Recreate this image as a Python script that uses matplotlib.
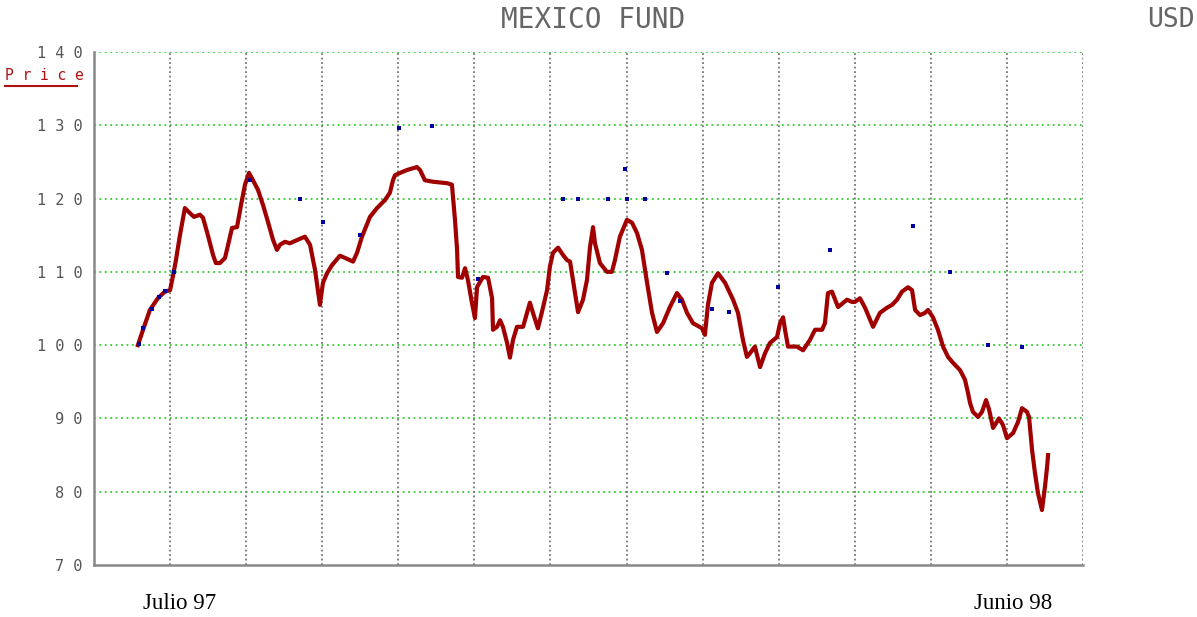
import matplotlib.pyplot as plt
from matplotlib.lines import Line2D

# semaines depuis le debut de l'axe (1 grille = 4 semaines)
weeks = [2.31, 2.58, 2.94, 3.36, 3.73, 4.00, 4.15, 4.31, 4.52, 4.78, 5.05, 5.26, 5.57, 5.73,
         5.99, 6.26, 6.41, 6.62, 6.89, 7.05, 7.26, 7.52, 7.73, 7.94, 8.15, 8.36, 8.62, 8.89,
         9.15, 9.41, 9.62, 9.78, 10.04, 10.30, 10.73, 11.09, 11.36, 11.62, 11.88, 12.04,
         12.25, 12.51, 12.93, 13.20, 13.62, 13.83, 14.09, 14.51, 14.88, 15.30, 15.56, 15.72,
         15.83, 16.09, 16.46, 16.98, 17.14, 17.40, 17.82, 18.56, 18.82, 18.98, 19.09, 19.14,
         19.35, 19.51, 19.66, 19.87, 20.03, 20.14, 20.29, 20.45, 20.72, 20.93, 20.98, 21.19,
         21.35, 21.50, 21.72, 21.87, 22.03, 22.24, 22.56, 22.77, 22.92, 23.08, 23.34, 23.55,
         23.82, 23.97, 24.13, 24.40, 24.66, 24.87, 25.03, 25.29, 25.45, 25.71, 25.92, 26.08,
         26.24, 26.34, 26.60, 26.97, 27.23, 27.39, 27.65, 28.02, 28.29, 28.55, 28.81, 29.08,
         29.34, 29.60, 29.92, 30.28, 30.65, 30.91, 31.18, 31.49, 31.97, 32.12, 32.28, 32.49,
         32.81, 33.18, 33.60, 33.86, 34.12, 34.33, 34.49, 34.75, 35.02, 35.28, 35.54, 35.91,
         36.07, 36.23, 36.33, 36.49, 36.96, 37.28, 37.64, 37.91, 38.28, 38.43, 38.59, 38.80,
         39.12, 39.59, 39.85, 40.01, 40.27, 40.54, 40.96, 41.32, 41.69, 41.96, 42.22, 42.48,
         42.80, 43.01, 43.17, 43.43, 43.69, 43.85, 44.11, 44.37, 44.64, 44.90, 45.16, 45.53,
         45.79, 45.95, 46.06, 46.21, 46.48, 46.69, 46.90, 47.06, 47.27, 47.58, 47.79, 48.00,
         48.32, 48.58, 48.79, 49.05, 49.16, 49.32, 49.47, 49.63, 49.84, 50.00, 50.11, 50.16]
price = [100.0, 102.1, 104.8, 106.4, 107.3, 107.5, 109.4, 111.6, 115.0, 118.7, 118.0, 117.5,
         117.8, 117.4, 115.0, 112.3, 111.2, 111.2, 111.9, 113.7, 116.0, 116.1, 119.1, 121.9,
         123.5, 122.5, 121.2, 119.1, 116.8, 114.4, 113.0, 113.7, 114.1, 113.9, 114.4, 114.8,
         113.7, 110.3, 105.5, 108.5, 109.8, 110.9, 112.2, 111.9, 111.4, 112.6, 114.8, 117.5,
         118.7, 119.8, 120.8, 122.5, 123.2, 123.5, 123.9, 124.3, 123.9, 122.5, 122.3, 122.1,
         121.9, 117.1, 113.0, 109.3, 109.2, 110.5, 108.9, 105.8, 103.7, 107.9, 108.6, 109.3,
         109.2, 106.4, 102.1, 102.5, 103.4, 102.5, 100.3, 98.3, 100.7, 102.5, 102.5, 104.4,
         105.8, 104.4, 102.3, 104.5, 107.5, 110.7, 112.6, 113.3, 112.3, 111.6, 111.4, 107.1,
         104.5, 106.2, 108.9, 113.4, 116.1, 113.9, 111.2, 110.0, 110.0, 111.6, 114.8, 117.1,
         116.7, 115.3, 113.0, 108.5, 104.4, 101.8, 103.0, 105.2, 107.1, 106.2, 104.4, 103.0,
         102.3, 101.4, 105.5, 108.5, 109.8, 108.5, 106.2, 104.4, 100.7, 98.4, 98.9, 99.8,
         97.0, 98.9, 100.3, 101.1, 103.0, 103.8, 102.1, 99.8, 99.8, 99.3, 100.7, 102.1,
         102.1, 103.0, 107.1, 107.3, 105.2, 106.2, 105.9, 105.9, 106.4, 105.1, 102.5, 104.4,
         105.1, 105.5, 106.2, 107.3, 107.9, 107.5, 104.8, 104.1, 104.4, 104.8, 103.8, 102.1,
         99.8, 98.4, 97.6, 96.6, 95.3, 93.5, 92.1, 90.9, 90.2, 90.9, 92.5, 91.2, 88.7, 90.0,
         89.1, 87.3, 88.0, 89.5, 91.4, 90.9, 90.2, 85.7, 82.6, 79.8, 77.5, 80.7, 83.4, 85.0]

# petits points bleus (deuxieme serie, surtout cachee)
blue_weeks = [2.35, 2.6, 3.05, 3.4, 3.75, 4.2, 8.2, 14.0, 16.04, 17.77, 10.83, 12.04,
              20.2, 24.66, 25.45, 27.02, 27.92, 28.02, 28.97, 30.13, 30.8, 32.5, 33.4,
              35.96, 38.70, 43.06, 45.01, 47.0, 48.79]
blue_price = [100.2, 102.4, 105.0, 106.6, 107.4, 110.0, 122.6, 115.0, 129.6, 129.9, 120.0,
              116.8, 109.0, 119.9, 119.9, 119.9, 124.0, 120.0, 120.0, 109.8, 106.0, 105.0,
              104.5, 107.9, 113.0, 116.3, 110.0, 100.0, 99.8]

y_ticks = [70, 80, 90, 100, 110, 120, 130, 140]
x_grid = list(range(0, 53, 4))
x_labels = ["Julio 97", "Junio 98"]
x_label_pos = [4.52, 48.3]

fig = plt.figure(figsize=(11.97, 6.17), dpi=100)
ax = fig.add_axes([0.0785, 0.0843, 0.8263, 0.8314])

ax.set_xlim(0, 52)
ax.set_ylim(70, 140)

for y in y_ticks[1:]:
    ax.axhline(y, color="#33cc33", lw=1.3, ls=(0, (1, 2)), zorder=1)
for x in x_grid[1:]:
    ax.axvline(x, color="#777777", lw=1.3, ls=(0, (1, 1.5)), zorder=1)

ax.plot(weeks, price, color="#a00000", lw=3.0, zorder=3)
ax.scatter(blue_weeks, blue_price, s=10, marker="s", color="#0000a0", zorder=4, lw=0)

for s in ["top", "right"]:
    ax.spines[s].set_visible(False)
for s in ["left", "bottom"]:
    ax.spines[s].set_color("#888888")
    ax.spines[s].set_linewidth(1.8)

ax.set_xticks([])
ax.set_yticks(y_ticks)
ax.set_yticklabels([" ".join(str(v)) for v in y_ticks], family="DejaVu Sans Mono",
                   fontsize=11, color="#555555")
ax.tick_params(axis="y", length=0, pad=8)

for lab, pos in zip(x_labels, x_label_pos):
    ax.text(pos, -0.055, lab, transform=ax.get_xaxis_transform(), ha="center", va="top",
            family="Liberation Serif", fontsize=16.5, color="black")

fig.text(0.4955, 0.968, "MEXICO FUND", ha="center", va="center", family="DejaVu Sans Mono",
         fontsize=20, color="#666666")
fig.text(0.998, 0.968, "USD", ha="right", va="center", family="DejaVu Sans Mono",
         fontsize=19, color="#666666")
fig.text(0.004, 0.878, "P r i c e", ha="left", va="center", family="DejaVu Sans Mono",
         fontsize=10.5, color="#b01010")
fig.add_artist(Line2D([0.004, 0.064], [0.861, 0.861], color="#b01010", lw=1.5))

fig.savefig("out.png", dpi=100, facecolor="white")
